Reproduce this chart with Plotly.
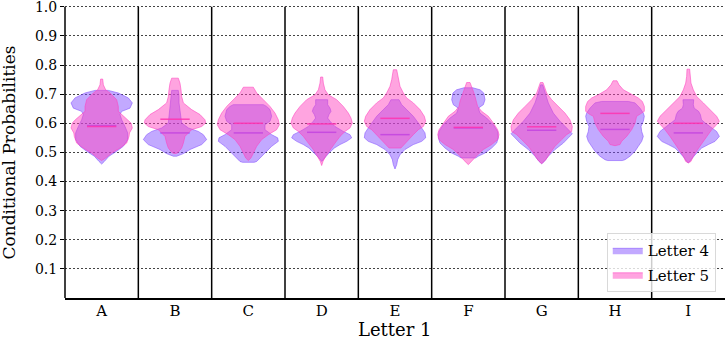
import plotly.graph_objects as go

categories = ["A", "B", "C", "D", "E", "F", "G", "H", "I"]
series_names = ["Letter 4", "Letter 5"]

# Violin outlines: probability levels and half-widths (category units)
L4_y = [
    [0.713, 0.704, 0.687, 0.670, 0.652, 0.641, 0.630, 0.612, 0.589, 0.567, 0.544, 0.521, 0.504, 0.487, 0.469, 0.460],
    [0.713, 0.692, 0.670, 0.647, 0.624, 0.601, 0.584, 0.572, 0.561, 0.544, 0.527, 0.510, 0.496, 0.487],
    [0.664, 0.658, 0.647, 0.624, 0.607, 0.595, 0.578, 0.561, 0.550, 0.538, 0.521, 0.498, 0.481, 0.469, 0.466],
    [0.681, 0.664, 0.652, 0.641, 0.630, 0.618, 0.607, 0.589, 0.572, 0.561, 0.550, 0.538, 0.527, 0.515, 0.498, 0.481, 0.469],
    [0.681, 0.664, 0.647, 0.624, 0.601, 0.584, 0.567, 0.550, 0.538, 0.527, 0.510, 0.492, 0.475, 0.458, 0.443],
    [0.722, 0.715, 0.704, 0.681, 0.664, 0.652, 0.635, 0.618, 0.595, 0.572, 0.550, 0.532, 0.515, 0.498, 0.487, 0.481],
    [0.732, 0.704, 0.670, 0.635, 0.607, 0.584, 0.564, 0.550, 0.532, 0.510, 0.487, 0.469, 0.461],
    [0.675, 0.670, 0.652, 0.635, 0.624, 0.607, 0.589, 0.572, 0.555, 0.538, 0.521, 0.504, 0.487, 0.475, 0.472],
    [0.681, 0.664, 0.652, 0.641, 0.630, 0.612, 0.601, 0.589, 0.572, 0.555, 0.538, 0.527, 0.515, 0.498, 0.481, 0.469, 0.464],
]
L4_w = [
    [0.09, 0.227, 0.364, 0.418, 0.386, 0.273, 0.25, 0.273, 0.318, 0.355, 0.355, 0.295, 0.205, 0.10, 0.036, 0.0],
    [0.045, 0.055, 0.055, 0.068, 0.082, 0.091, 0.182, 0.318, 0.386, 0.432, 0.364, 0.205, 0.114, 0.023],
    [0.205, 0.25, 0.295, 0.318, 0.295, 0.227, 0.227, 0.318, 0.40, 0.409, 0.318, 0.227, 0.159, 0.114, 0.08],
    [0.082, 0.082, 0.114, 0.127, 0.10, 0.082, 0.114, 0.182, 0.295, 0.386, 0.409, 0.341, 0.25, 0.173, 0.10, 0.036, 0.0],
    [0.055, 0.091, 0.159, 0.25, 0.318, 0.364, 0.409, 0.418, 0.364, 0.25, 0.136, 0.068, 0.036, 0.023, 0.0],
    [0.06, 0.16, 0.21, 0.227, 0.205, 0.136, 0.159, 0.25, 0.341, 0.40, 0.409, 0.386, 0.318, 0.227, 0.136, 0.10],
    [0.014, 0.045, 0.091, 0.159, 0.25, 0.341, 0.418, 0.364, 0.295, 0.182, 0.091, 0.036, 0.0],
    [0.182, 0.273, 0.341, 0.386, 0.40, 0.386, 0.355, 0.364, 0.386, 0.364, 0.318, 0.273, 0.205, 0.136, 0.10],
    [0.073, 0.068, 0.08, 0.14, 0.164, 0.18, 0.23, 0.30, 0.386, 0.423, 0.364, 0.273, 0.182, 0.114, 0.055, 0.023, 0.0],
]
L5_y = [
    [0.752, 0.732, 0.715, 0.704, 0.681, 0.658, 0.641, 0.624, 0.612, 0.601, 0.584, 0.567, 0.555, 0.532, 0.515, 0.498, 0.481, 0.472],
    [0.755, 0.738, 0.715, 0.692, 0.670, 0.647, 0.630, 0.612, 0.601, 0.589, 0.578, 0.555, 0.532, 0.515, 0.498, 0.496],
    [0.724, 0.704, 0.681, 0.658, 0.635, 0.612, 0.595, 0.578, 0.561, 0.544, 0.521, 0.498, 0.481, 0.472],
    [0.759, 0.738, 0.715, 0.698, 0.681, 0.658, 0.635, 0.618, 0.601, 0.584, 0.572, 0.555, 0.532, 0.510, 0.487, 0.469, 0.455],
    [0.784, 0.767, 0.750, 0.727, 0.704, 0.687, 0.670, 0.647, 0.624, 0.607, 0.589, 0.578, 0.561, 0.544, 0.527, 0.515],
    [0.740, 0.727, 0.710, 0.692, 0.675, 0.658, 0.641, 0.624, 0.601, 0.578, 0.561, 0.544, 0.527, 0.510, 0.492, 0.475, 0.458],
    [0.740, 0.727, 0.704, 0.681, 0.658, 0.635, 0.612, 0.589, 0.572, 0.561, 0.544, 0.521, 0.498, 0.475, 0.461],
    [0.746, 0.732, 0.715, 0.698, 0.687, 0.675, 0.658, 0.641, 0.630, 0.624, 0.601, 0.578, 0.555, 0.538, 0.527, 0.523],
    [0.786, 0.761, 0.738, 0.715, 0.692, 0.670, 0.647, 0.624, 0.607, 0.595, 0.578, 0.555, 0.532, 0.510, 0.487, 0.469, 0.464],
]
L5_w = [
    [0.014, 0.023, 0.055, 0.114, 0.205, 0.227, 0.227, 0.30, 0.36, 0.40, 0.418, 0.38, 0.373, 0.341, 0.25, 0.136, 0.055, 0.0],
    [0.045, 0.068, 0.082, 0.091, 0.114, 0.227, 0.341, 0.409, 0.418, 0.364, 0.227, 0.136, 0.114, 0.091, 0.036, 0.0],
    [0.068, 0.114, 0.205, 0.295, 0.364, 0.409, 0.423, 0.386, 0.273, 0.182, 0.114, 0.068, 0.036, 0.0],
    [0.014, 0.023, 0.045, 0.091, 0.205, 0.295, 0.364, 0.40, 0.418, 0.386, 0.318, 0.25, 0.182, 0.114, 0.055, 0.018, 0.0],
    [0.023, 0.036, 0.045, 0.068, 0.114, 0.159, 0.25, 0.341, 0.40, 0.418, 0.386, 0.318, 0.25, 0.182, 0.127, 0.08],
    [0.023, 0.045, 0.068, 0.091, 0.114, 0.127, 0.182, 0.273, 0.341, 0.40, 0.418, 0.40, 0.318, 0.205, 0.127, 0.068, 0.0],
    [0.018, 0.036, 0.068, 0.136, 0.227, 0.318, 0.386, 0.418, 0.409, 0.341, 0.273, 0.182, 0.114, 0.055, 0.0],
    [0.027, 0.055, 0.114, 0.227, 0.318, 0.373, 0.40, 0.40, 0.341, 0.295, 0.273, 0.227, 0.159, 0.091, 0.068, 0.0],
    [0.018, 0.023, 0.036, 0.068, 0.114, 0.205, 0.295, 0.386, 0.423, 0.386, 0.318, 0.25, 0.182, 0.127, 0.068, 0.036, 0.0],
]
L4_median = [0.592, 0.567, 0.567, 0.569, 0.561, 0.584, 0.576, 0.579, 0.567]
L5_median = [0.589, 0.614, 0.600, 0.598, 0.617, 0.586, 0.588, 0.634, 0.600]

y_ticks = [0.1, 0.2, 0.3, 0.4, 0.5, 0.6, 0.7, 0.8, 0.9, 1.0]

FILL = ["rgba(127,76,255,0.48)", "rgba(255,64,190,0.48)"]
EDGE = ["rgba(127,76,255,0.55)", "rgba(255,64,190,0.55)"]
MED = ["rgba(140,70,255,0.85)", "rgba(255,50,175,0.85)"]
FONT = "DejaVu Serif"
MED_HALF = 0.2
Y_MAX = 1.02
Y_TOP = 1.0

fig = go.Figure()

for s, (ys_all, ws_all, meds) in enumerate([(L4_y, L4_w, L4_median), (L5_y, L5_w, L5_median)]):
    for i in range(len(categories)):
        ys, ws = ys_all[i], ws_all[i]
        xs = [i + w for w in ws] + [i - w for w in reversed(ws)]
        yy = list(ys) + list(reversed(ys))
        fig.add_trace(go.Scatter(
            x=xs + [xs[0]], y=yy + [yy[0]], mode="lines", fill="toself",
            fillcolor=FILL[s], line=dict(color=EDGE[s], width=1),
            name=series_names[s], legendgroup=series_names[s],
            showlegend=(i == 0), hoverinfo="skip",
        ))
    for i in range(len(categories)):
        fig.add_trace(go.Scatter(
            x=[i - MED_HALF, i + MED_HALF], y=[meds[i], meds[i]], mode="lines",
            line=dict(color=MED[s], width=1.5), showlegend=False,
            legendgroup=series_names[s], hoverinfo="skip",
        ))

# left spine and category separators, from the axis up to y = 1.0
fig.add_shape(type="line", xref="paper", yref="y", x0=0, x1=0, y0=0, y1=Y_TOP,
              line=dict(color="black", width=1.5), layer="above")
for k in range(len(categories) - 1):
    fig.add_shape(type="line", xref="x", yref="y", x0=k + 0.5, x1=k + 0.5, y0=0, y1=Y_TOP,
                  line=dict(color="black", width=1.5), layer="above")

fig.update_layout(
    width=726, height=341,
    margin=dict(l=65, r=1, t=1, b=43, autoexpand=False),
    paper_bgcolor="white", plot_bgcolor="white",
    font=dict(family=FONT, color="black", size=14),
    showlegend=True,
    legend=dict(x=0.986, y=0.02, xanchor="right", yanchor="bottom",
                bgcolor="rgba(255,255,255,0.8)", bordercolor="#d9d9d9", borderwidth=1,
                font=dict(family=FONT, size=15), tracegroupgap=2, itemwidth=30),
    xaxis=dict(
        range=[-0.5, len(categories) - 0.5], automargin=False,
        tickmode="array", tickvals=list(range(len(categories))), ticktext=categories,
        ticks="", showgrid=False, zeroline=False,
        showline=True, linecolor="black", linewidth=1.5,
        tickfont=dict(family=FONT, size=15), ticklabelstandoff=-2,
    ),
    yaxis=dict(
        range=[0, Y_MAX], automargin=False, tickmode="array", tickvals=y_ticks,
        ticktext=[f"{v:.1f}" for v in y_ticks], ticklabeloverflow="allow",
        ticks="outside", ticklen=4, tickcolor="black", tickwidth=1,
        showgrid=True, gridcolor="#444444", gridwidth=0.8, griddash="2px,2px",
        zeroline=False, showline=False,
        tickfont=dict(family=FONT, size=14),
    ),
    annotations=[
        dict(text="Letter 1", xref="paper", yref="paper", x=0.5, y=-0.107,
             xanchor="center", yanchor="middle", showarrow=False,
             font=dict(family=FONT, size=18)),
        dict(text="Conditional Probabilities", xref="paper", yref="paper",
             x=-0.0848, y=0.49, xanchor="center", yanchor="middle", textangle=-90,
             showarrow=False, font=dict(family=FONT, size=17)),
    ],
)

fig.write_html(
    "out.html",
    config={"displayModeBar": False},
    post_script="document.body.style.margin='0';document.body.style.padding='0';",
)
